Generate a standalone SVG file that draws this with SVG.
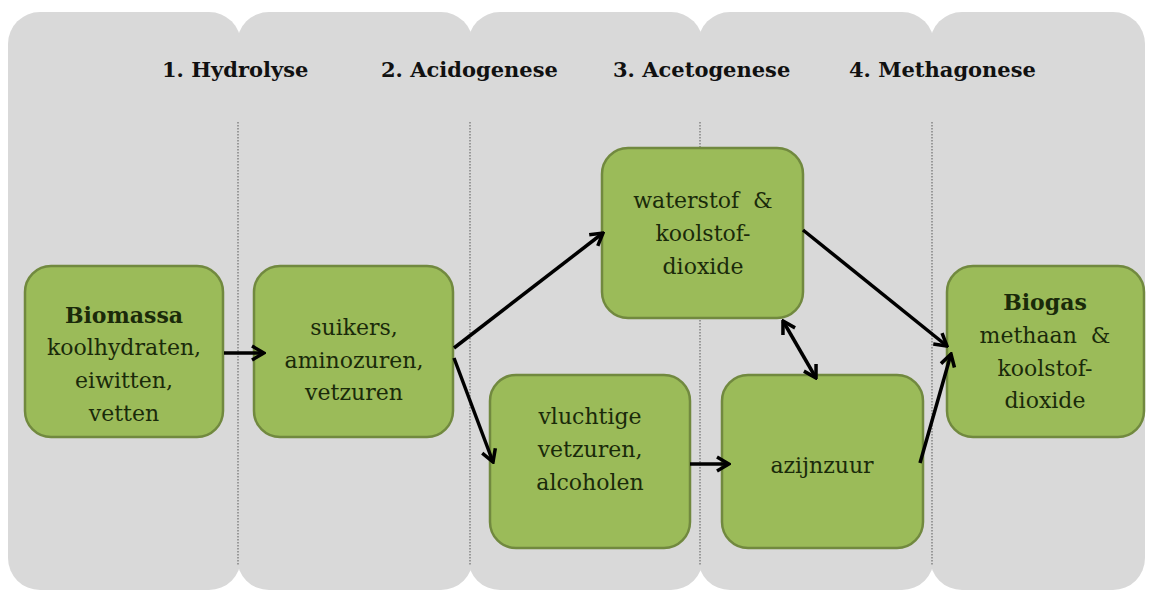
<svg xmlns="http://www.w3.org/2000/svg" width="1153" height="592" viewBox="0 0 1153 592">
<defs>
<style>
.col{fill:#d9d9d9;}
.div{stroke:#6f6f6f;stroke-width:1.2;stroke-dasharray:1.5 1.5;fill:none;}
.hdr{font-family:'DejaVu Serif',serif;font-weight:bold;font-size:21px;fill:#111;}
.box{fill:#9bbb59;stroke:#71893f;stroke-width:2.5;}
.t{font-family:'DejaVu Serif',serif;font-size:22px;fill:#1a2a0a;text-anchor:middle;}
.b{font-weight:bold;}
.con{stroke:#000;stroke-width:3.5;fill:none;}
</style>
<marker id="ah" viewBox="0 0 16 18" refX="14" refY="9" markerWidth="16" markerHeight="18" markerUnits="userSpaceOnUse" orient="auto-start-reverse">
<path d="M2,2 L14,9 L2,16" fill="none" stroke="#000" stroke-width="3.5" stroke-linejoin="miter"/>
</marker>
</defs>
<rect width="1153" height="592" fill="#ffffff"/>
<g id="background">
<rect class="col" x="8" y="12" width="233" height="578" rx="32"/>
<rect class="col" x="237" y="12" width="236" height="578" rx="32"/>
<rect class="col" x="468" y="12" width="235" height="578" rx="32"/>
<rect class="col" x="698" y="12" width="236" height="578" rx="32"/>
<rect class="col" x="930" y="12" width="215" height="578" rx="32"/>
<line class="div" x1="238" y1="122" x2="238" y2="565"/>
<line class="div" x1="470" y1="122" x2="470" y2="565"/>
<line class="div" x1="700" y1="122" x2="700" y2="565"/>
<line class="div" x1="932" y1="122" x2="932" y2="565"/>
</g>
<g id="headers">
<text class="hdr" x="162" y="77">1. Hydrolyse</text>
<text class="hdr" x="381" y="77">2. Acidogenese</text>
<text class="hdr" x="613" y="77">3. Acetogenese</text>
<text class="hdr" x="849" y="77">4. Methagonese</text>
</g>
<g id="biomassa">
<rect class="box" x="25" y="266" width="198" height="171" rx="26"/>
<text class="t b" x="124" y="323">Biomassa</text>
<text class="t" x="124" y="355">koolhydraten,</text>
<text class="t" x="124" y="388">eiwitten,</text>
<text class="t" x="124" y="421">vetten</text>
</g>
<g id="suikers">
<rect class="box" x="254" y="266" width="199" height="171" rx="26"/>
<text class="t" x="354" y="335">suikers,</text>
<text class="t" x="354" y="368">aminozuren,</text>
<text class="t" x="354" y="400">vetzuren</text>
</g>
<g id="waterstof">
<rect class="box" x="602" y="148" width="201" height="170" rx="26"/>
<text class="t" x="703" y="208" xml:space="preserve">waterstof  &amp;</text>
<text class="t" x="703" y="241">koolstof-</text>
<text class="t" x="703" y="274">dioxide</text>
</g>
<g id="vluchtige">
<rect class="box" x="490" y="375" width="200" height="173" rx="26"/>
<text class="t" x="590" y="424">vluchtige</text>
<text class="t" x="590" y="457">vetzuren,</text>
<text class="t" x="590" y="490">alcoholen</text>
</g>
<g id="azijnzuur">
<rect class="box" x="722" y="375" width="201" height="173" rx="26"/>
<text class="t" x="822" y="473">azijnzuur</text>
</g>
<g id="biogas">
<rect class="box" x="947" y="266" width="197" height="171" rx="26"/>
<text class="t b" x="1045" y="310">Biogas</text>
<text class="t" x="1045" y="343" xml:space="preserve">methaan  &amp;</text>
<text class="t" x="1045" y="376">koolstof-</text>
<text class="t" x="1045" y="408">dioxide</text>
</g>
<g id="connectors">
<line class="con" x1="224" y1="353" x2="264" y2="353" marker-end="url(#ah)"/>
<line class="con" x1="454" y1="348" x2="603" y2="233" marker-end="url(#ah)"/>
<line class="con" x1="454" y1="358" x2="493" y2="462" marker-end="url(#ah)"/>
<line class="con" x1="690" y1="464" x2="729" y2="464" marker-end="url(#ah)"/>
<line class="con" x1="803" y1="230" x2="947" y2="346" marker-end="url(#ah)"/>
<line class="con" x1="920" y1="463" x2="951" y2="354" marker-end="url(#ah)"/>
<line class="con" x1="783" y1="321" x2="816" y2="378" marker-start="url(#ah)" marker-end="url(#ah)"/>
</g>
</svg>
